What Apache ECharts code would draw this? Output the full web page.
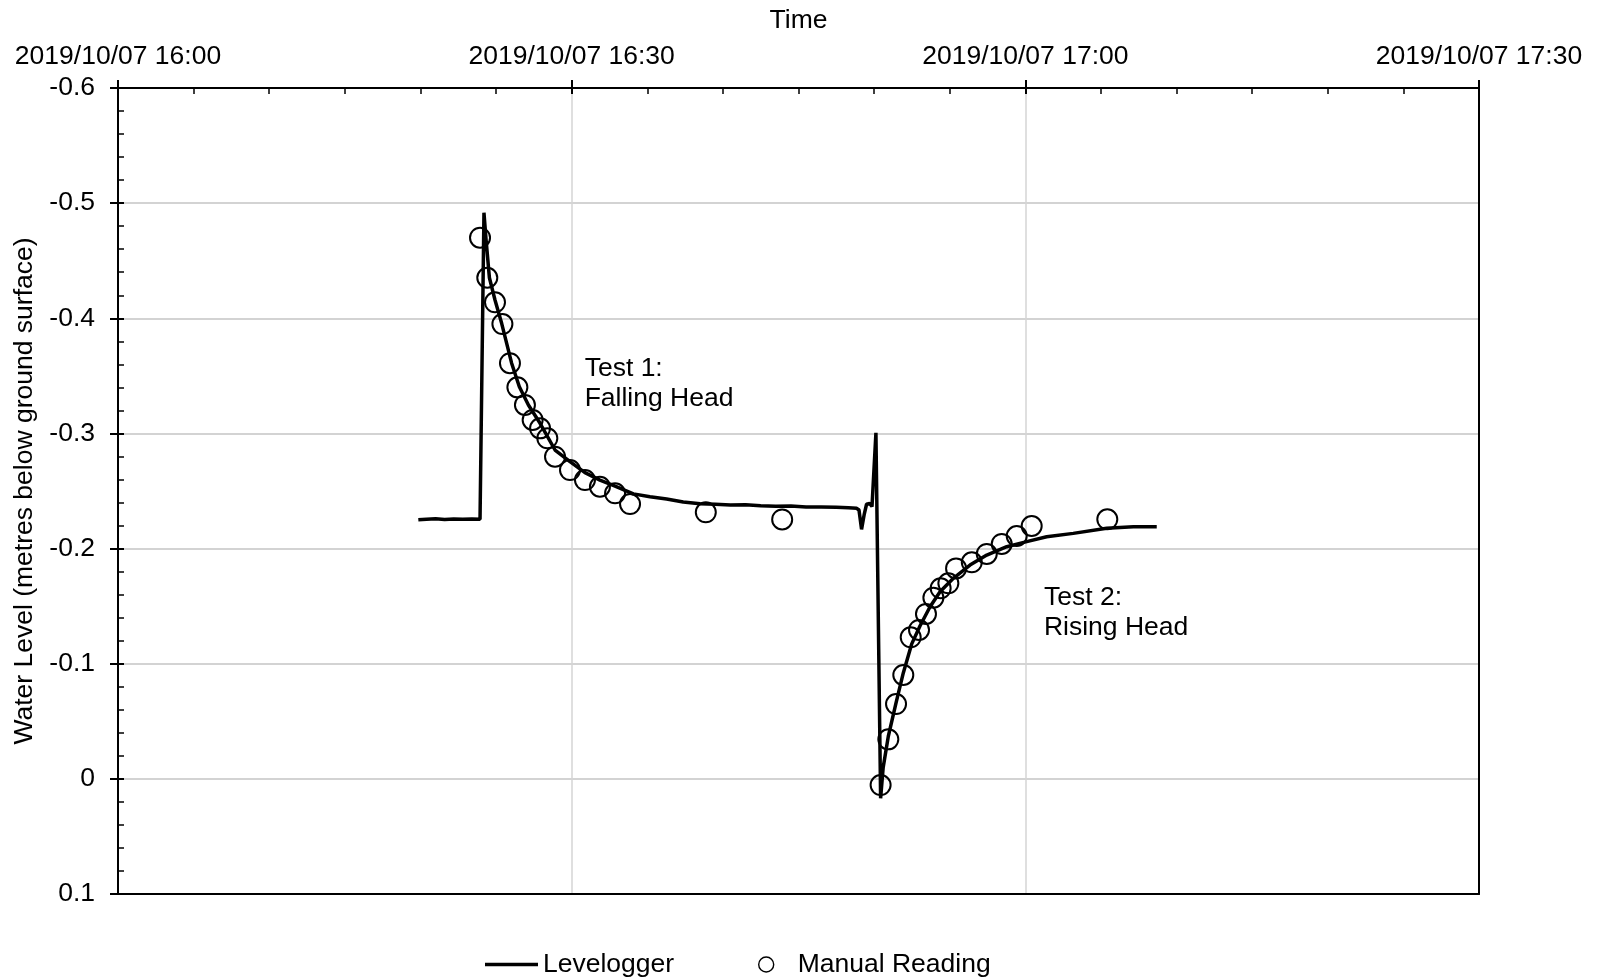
<!DOCTYPE html>
<html><head><meta charset="utf-8">
<script src="https://cdn.jsdelivr.net/npm/echarts@6/dist/echarts.min.js"></script>
<style>html,body{margin:0;padding:0;background:#fff}#c{width:1597px;height:980px}</style>
</head><body><div id="c"></div>
<script>
// x values: minutes after 2019/10/07 16:00
const xTicks = [0, 30, 60, 90];
const tickLabels = ['2019/10/07 16:00', '2019/10/07 16:30', '2019/10/07 17:00', '2019/10/07 17:30'];

const loggerMinutes = [19.86, 20.4, 21.0, 21.6, 22.2, 22.8, 23.4, 23.94, 24.20, 24.34, 24.56, 24.93, 25.37, 26.03, 26.54, 27.14, 27.91, 28.90, 29.89, 30.88, 31.87, 32.87, 34.08, 35.18, 36.28, 37.38, 38.49, 39.5, 40.5, 41.5, 42.5, 43.5, 44.5, 45.5, 46.5, 47.5, 48.3, 48.85, 49.0, 49.17, 49.35, 49.50, 49.70, 49.86, 50.12, 50.43, 50.60, 50.94, 51.45, 51.93, 52.48, 53.04, 53.70, 54.36, 55.24, 56.34, 57.45, 58.77, 60.09, 61.41, 63.17, 65.38, 67.14, 68.69];
const loggerLevel = [-0.2250, -0.2255, -0.2258, -0.2252, -0.2256, -0.2254, -0.2257, -0.2254, -0.4917, -0.468, -0.4352, -0.4159, -0.3956, -0.361, -0.3406, -0.3247, -0.3088, -0.2856, -0.2755, -0.2659, -0.2595, -0.2543, -0.2475, -0.2450, -0.2430, -0.2405, -0.2390, -0.2385, -0.2378, -0.2380, -0.2372, -0.2368, -0.2370, -0.2362, -0.2360, -0.2358, -0.2355, -0.2350, -0.2335, -0.2167, -0.2300, -0.2385, -0.2392, -0.2365, -0.3006, 0.0169, -0.010, -0.037, -0.066, -0.092, -0.117, -0.133, -0.1495, -0.1625, -0.1742, -0.1857, -0.1944, -0.2016, -0.2060, -0.2103, -0.2132, -0.2176, -0.2190, -0.2190];

const manualMinutes = [23.94, 24.42, 24.93, 25.42, 25.92, 26.41, 26.91, 27.42, 27.91, 28.39, 28.90, 29.89, 30.88, 31.87, 32.87, 33.86, 38.87, 43.92, 50.43, 50.94, 51.45, 51.93, 52.42, 52.97, 53.43, 53.92, 54.40, 54.91, 55.42, 56.46, 57.45, 58.44, 59.43, 60.42, 65.42];
const manualLevel = [-0.470, -0.4352, -0.4139, -0.395, -0.361, -0.340, -0.3247, -0.3117, -0.3044, -0.2958, -0.2798, -0.2682, -0.2595, -0.2537, -0.248, -0.2387, -0.2315, -0.2253, 0.0054, -0.0343, -0.065, -0.0902, -0.1229, -0.1293, -0.1432, -0.1573, -0.1655, -0.1698, -0.1828, -0.1881, -0.1953, -0.204, -0.2109, -0.2196, -0.2254];

const noteText = ['Test 1:\nFalling Head', 'Test 2:\nRising Head'];
const noteMinutes = [30.86, 61.23];
const noteLevel = [-0.343, -0.1444];

const FONT = 'Liberation Sans, Arial, sans-serif';
const FS = 26.5;

const chart = echarts.init(document.getElementById('c'), null, {renderer: 'canvas'});
const gridBox = {left: 118, top: 88, width: 1361, height: 806};
const tickFmt = v => { const i = xTicks.indexOf(Math.round(v)); return i >= 0 ? tickLabels[i] : ''; };
const yFmt = v => { const r = Math.round(v * 10) / 10; return r === 0 ? '0' : String(r); };
const black = '#000';
const legendText = {fontSize: FS, color: black, fontFamily: FONT};

chart.setOption({
  animation: false,
  backgroundColor: '#fff',
  textStyle: {fontFamily: FONT, color: black},
  grid: [Object.assign({}, gridBox), Object.assign({}, gridBox)],
  xAxis: [
    {type: 'value', gridIndex: 0, position: 'top', min: 0, max: 90, interval: 30,
     axisLine: {onZero: false, lineStyle: {color: black, width: 2}},
     axisTick: {show: true, inside: false, length: 8, lineStyle: {color: black, width: 2}},
     axisLabel: {margin: 18, fontSize: FS, color: black, fontFamily: FONT, formatter: tickFmt},
     splitLine: {show: true, lineStyle: {color: '#d4d4d4', width: 1.5}},
     name: 'Time', nameLocation: 'middle', nameGap: 54,
     nameTextStyle: {fontSize: FS, color: black, fontFamily: FONT}},
    {type: 'value', gridIndex: 0, position: 'bottom', min: 0, max: 90,
     axisLine: {onZero: false, lineStyle: {color: black, width: 2}}, axisTick: {show: false},
     axisLabel: {show: false}, splitLine: {show: false}},
    {type: 'value', gridIndex: 1, position: 'top', min: 0, max: 90, interval: 30,
     axisLine: {show: false, onZero: false},
     axisTick: {show: true, inside: true, length: 6, lineStyle: {color: black, width: 2}},
     minorTick: {show: true, splitNumber: 6, length: 6, lineStyle: {color: black, width: 1.5}},
     axisLabel: {show: false}, splitLine: {show: false}}
  ],
  yAxis: [
    {type: 'value', gridIndex: 0, position: 'left', inverse: true, min: -0.6, max: 0.1, interval: 0.1,
     axisLine: {onZero: false, lineStyle: {color: black, width: 2}},
     axisTick: {show: true, inside: false, length: 8, lineStyle: {color: black, width: 2}},
     axisLabel: {margin: 23, fontSize: FS, color: black, fontFamily: FONT, formatter: yFmt},
     splitLine: {show: true, lineStyle: {color: '#c4c4c4', width: 1.5}},
     name: 'Water Level (metres below ground surface)', nameLocation: 'middle', nameGap: 72,
     nameTextStyle: {fontSize: FS, color: black, fontFamily: FONT}},
    {type: 'value', gridIndex: 0, position: 'right', inverse: true, min: -0.6, max: 0.1,
     axisLine: {onZero: false, lineStyle: {color: black, width: 2}}, axisTick: {show: false},
     axisLabel: {show: false}, splitLine: {show: false}},
    {type: 'value', gridIndex: 1, position: 'left', inverse: true, min: -0.6, max: 0.1, interval: 0.1,
     axisLine: {show: false, onZero: false},
     axisTick: {show: true, inside: true, length: 6, lineStyle: {color: black, width: 2}},
     minorTick: {show: true, splitNumber: 5, length: 6, lineStyle: {color: black, width: 1.5}},
     axisLabel: {show: false}, splitLine: {show: false}}
  ],
  legend: [
    {data: [{name: 'Levelogger', icon: 'rect', itemStyle: {color: black, borderWidth: 0}}],
     left: 485, top: 951, padding: 0, itemWidth: 53, itemHeight: 3.5, textStyle: legendText},
    {data: [{name: 'Manual Reading', icon: 'circle', itemStyle: {color: 'rgba(255,255,255,0)', borderColor: black, borderWidth: 1.4, opacity: 1}}],
     left: 758, top: 951, padding: 0, itemWidth: 53, itemHeight: 15, textStyle: legendText}
  ],
  series: [
    {name: 'Levelogger', type: 'line', xAxisIndex: 0, yAxisIndex: 0, symbol: 'none', showSymbol: false, z: 3,
     lineStyle: {color: black, width: 3.5}, itemStyle: {color: black},
     data: loggerMinutes.map((m, i) => [m, loggerLevel[i]])},
    {name: 'Manual Reading', type: 'scatter', xAxisIndex: 0, yAxisIndex: 0, symbol: 'circle', symbolSize: 20, z: 4,
     itemStyle: {color: 'rgba(255,255,255,0)', borderColor: black, borderWidth: 2, opacity: 1},
     data: manualMinutes.map((m, i) => [m, manualLevel[i]])},
    {name: 'notes', type: 'scatter', xAxisIndex: 0, yAxisIndex: 0, symbolSize: 0, silent: true, z: 5,
     itemStyle: {opacity: 1},
     label: {show: true, position: 'right', distance: 0, formatter: p => p.name, opacity: 1,
             fontSize: FS, lineHeight: 30.5, color: black, fontFamily: FONT, align: 'left'},
     data: noteMinutes.map((m, i) => ({name: noteText[i], value: [m, noteLevel[i]]}))}
  ]
});
</script></body></html>
